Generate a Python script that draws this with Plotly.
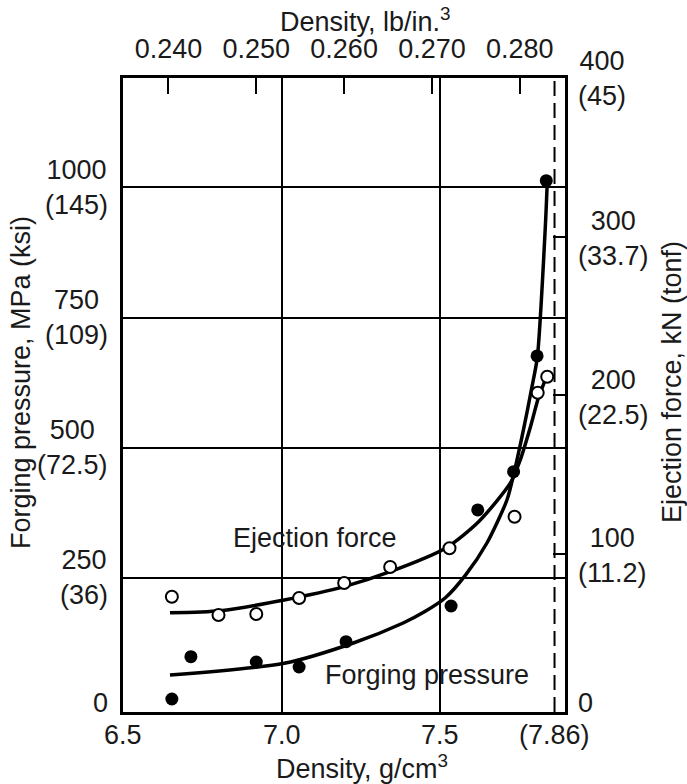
import plotly.graph_objects as go

# ---------------- data ----------------
# Forging pressure (filled circles), MPa, vs density g/cm3
forge_x = [6.654, 6.714, 6.920, 7.055, 7.203, 7.534, 7.618, 7.731, 7.805, 7.834]
forge_y = [17.7, 98.9, 88.7, 79.1, 127.7, 196.2, 380.6, 454.1, 676.3, 1012.9]
# Ejection force (open circles), kN, vs density g/cm3
eject_x = [6.654, 6.801, 6.920, 7.055, 7.197, 7.342, 7.529, 7.734, 7.807, 7.837]
eject_y = [72.7, 61.2, 61.8, 71.9, 81.4, 91.5, 103.3, 123.2, 201.4, 211.5]
# Fitted curves
forge_curve_x = [6.648, 7.008, 7.226, 7.383, 7.450, 7.516, 7.580, 7.647, 7.710, 7.733,
                 7.762, 7.789, 7.806, 7.831, 7.837]
forge_curve_y = [63.7, 86.2, 125.2, 163.6, 185.0, 212.0, 256.0, 317.2, 399.8, 453.5,
                 534.2, 617.3, 674.9, 924.5, 1008.4]
eject_curve_x = [6.648, 6.806, 7.008, 7.197, 7.342, 7.516, 7.620, 7.721, 7.752, 7.784, 7.810, 7.840]
eject_curve_y = [62.6, 63.9, 70.7, 79.1, 88.5, 103.3, 119.9, 144.5, 159.0, 179.8, 198.7, 214.0]

# axes
x_range = [6.5, 7.893]
x_ticks = [6.5, 7.0, 7.5, 7.86]
x_ticktext = ["6.5", "7.0", "7.5", "(7.86)"]
x_grid = [7.0, 7.5]
iron_density = 7.86
lb_factor = 0.036127  # lb/in3 per g/cm3
top_ticks = [0.240, 0.250, 0.260, 0.270, 0.280]
top_ticktext = ["0.240", "0.250", "0.260", "0.270", "0.280"]

left_range = [-7.3, 1210]
left_ticks = [0, 250, 500, 750, 1000]
left_ticktext = ["0", "250<br>(36)", "500<br>(72.5)", "750<br>(109)", "1000<br>(145)"]
left_grid = [250, 500, 750, 1000]

right_range = [0, 400]
right_ticks = [100, 200, 300]
right_labels_v = [0, 100, 200, 300, 400]
right_ticktext = ["0", "100<br>(11.2)", "200<br>(22.5)", "300<br>(33.7)", "400<br>(45)"]

FONT = "Liberation Sans, Arial, Helvetica, sans-serif"
FS = 27
TC = "#1a1a1a"

fig = go.Figure()

fig.add_trace(go.Scatter(x=forge_curve_x, y=forge_curve_y, mode="lines",
                         line=dict(color="black", width=3.5, shape="spline", smoothing=0.7),
                         yaxis="y", showlegend=False, hoverinfo="skip"))
fig.add_trace(go.Scatter(x=eject_curve_x, y=eject_curve_y, mode="lines",
                         line=dict(color="black", width=3.5, shape="spline", smoothing=0.7),
                         yaxis="y2", showlegend=False, hoverinfo="skip"))
fig.add_trace(go.Scatter(x=forge_x, y=forge_y, mode="markers",
                         marker=dict(symbol="circle", size=13, color="black"),
                         yaxis="y", showlegend=False))
fig.add_trace(go.Scatter(x=eject_x, y=eject_y, mode="markers",
                         marker=dict(symbol="circle", size=12, color="white",
                                     line=dict(color="black", width=2)),
                         yaxis="y2", showlegend=False))
# invisible trace to activate top axis
fig.add_trace(go.Scatter(x=[x_range[0] * lb_factor], y=[0], mode="markers",
                         marker=dict(opacity=0), xaxis="x2", yaxis="y",
                         showlegend=False, hoverinfo="skip"))

fig.update_layout(
    width=687, height=784,
    margin=dict(l=123, r=122, t=78, b=72, autoexpand=False),
    paper_bgcolor="white", plot_bgcolor="white",
    font=dict(family=FONT, size=FS, color=TC),
    xaxis=dict(range=x_range, tickvals=x_grid, showticklabels=False,
               showgrid=True, gridcolor="black", gridwidth=1.5,
               showline=True, linecolor="black", linewidth=3, mirror=False,
               ticks="", zeroline=False, fixedrange=True, automargin=False),
    xaxis2=dict(range=[x_range[0] * lb_factor, x_range[1] * lb_factor],
                overlaying="x", side="top", anchor="y",
                tickvals=top_ticks, ticktext=top_ticktext,
                ticks="inside", ticklen=16, tickwidth=2, tickcolor="black",
                tickfont=dict(family=FONT, size=FS, color=TC),
                ticklabelstandoff=6,
                showgrid=False, showline=True, linecolor="black", linewidth=2.5,
                zeroline=False, fixedrange=True, automargin=False),
    yaxis=dict(range=left_range, tickvals=left_grid, showticklabels=False,
               showgrid=True, gridcolor="black", gridwidth=1.5,
               showline=True, linecolor="black", linewidth=2.5,
               ticks="", zeroline=False, fixedrange=True, automargin=False),
    yaxis2=dict(range=right_range, overlaying="y", side="right", anchor="x",
                tickvals=right_ticks, showticklabels=False,
                ticks="inside", ticklen=12, tickwidth=2, tickcolor="black",
                showgrid=False, showline=True, linecolor="black", linewidth=2.5,
                zeroline=False, fixedrange=True, automargin=False),
)

# dashed line at density of iron
fig.add_shape(type="line", xref="x", yref="paper", x0=iron_density, x1=iron_density,
              y0=0, y1=1, line=dict(color="black", width=2, dash="15px,7px"))

ann = []
# bottom tick labels
for v, t in zip(x_ticks, x_ticktext):
    ann.append(dict(x=v, xref="x", y=0, yref="paper", text=t, showarrow=False,
                    xanchor="center", yanchor="middle", yshift=-23))
# left tick labels
for v, t in zip(left_ticks, left_ticktext):
    ys = 5 if v == 0 else 0
    ann.append(dict(x=0, xref="paper", y=v, yref="y", text=t, showarrow=False,
                    xanchor="right", yanchor="middle", align="center", xshift=-13, yshift=ys))
# right tick labels
for v, t in zip(right_labels_v, right_ticktext):
    ys = 9 if v == 0 else (-2 if v < 400 else 0)
    ann.append(dict(x=1, xref="paper", y=v, yref="y2", text=t, showarrow=False,
                    xanchor="left", yanchor="middle", align="center", xshift=11, yshift=ys))
# axis titles
ann.append(dict(x=(362 - 123) / 442, xref="paper", y=0, yref="paper",
                text="Density, g/cm<sup>3</sup>", showarrow=False,
                xanchor="center", yanchor="middle", yshift=-55))
ann.append(dict(x=(365 - 123) / 442, xref="paper", y=1, yref="paper",
                text="Density, lb/in.<sup>3</sup>", showarrow=False,
                xanchor="center", yanchor="middle", yshift=58))
ann.append(dict(x=0, xref="paper", y=(712 - 383) / 634, yref="paper",
                text="Forging pressure, MPa (ksi)", showarrow=False, textangle=-90,
                xanchor="center", yanchor="middle", xshift=21 - 123))
ann.append(dict(x=1, xref="paper", y=(712 - 382) / 634, yref="paper",
                text="Ejection force, kN (tonf)", showarrow=False, textangle=-90,
                xanchor="center", yanchor="middle", xshift=672 - 565))
# curve labels
ann.append(dict(x=(315 - 123) / 442, xref="paper", y=(712 - 538) / 634, yref="paper",
                text="Ejection force", showarrow=False, xanchor="center", yanchor="middle"))
ann.append(dict(x=(427 - 123) / 442, xref="paper", y=(712 - 675) / 634, yref="paper",
                text="Forging pressure", showarrow=False, xanchor="center", yanchor="middle"))

fig.update_layout(annotations=ann)
fig.write_html("out.html", config={"displayModeBar": False},
               post_script="document.body.style.margin='0';document.body.style.overflow='hidden';")
